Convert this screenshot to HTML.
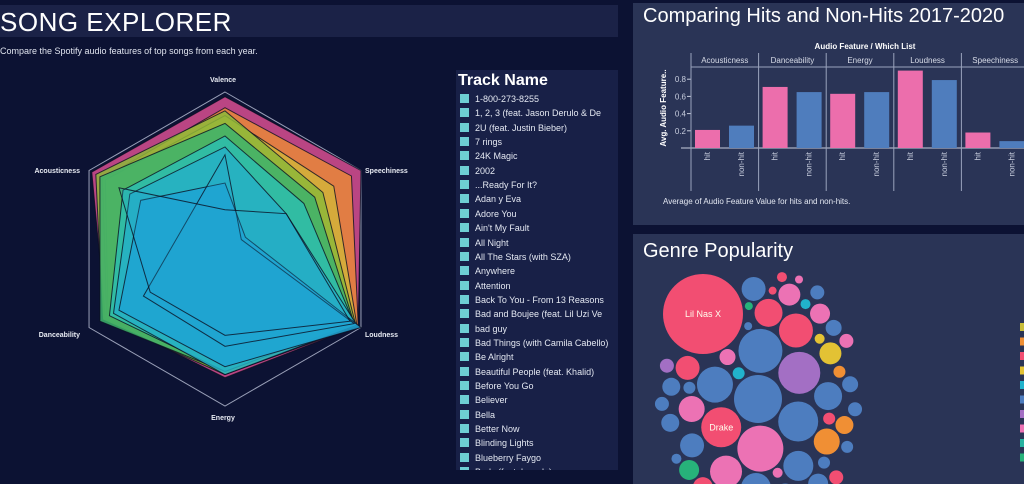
<!DOCTYPE html>
<html><head><meta charset="utf-8">
<style>
html,body{margin:0;padding:0;width:1024px;height:484px;overflow:hidden;background:#0c1233;font-family:"Liberation Sans",sans-serif;}
.abs{position:absolute;}
#title-bar{left:0;top:5px;width:618px;height:32px;background:#1b2247;}
#title-bar span{position:absolute;left:0;top:2px;font-size:26px;color:#fff;letter-spacing:0.5px;}
#subtitle{left:0;top:46px;font-size:9px;color:#dfe3ee;}
#tracks{left:456px;top:70px;width:162px;height:400px;background:#182047;overflow:hidden;}
#tracks h3{margin:0;position:absolute;left:2px;top:2px;font-size:16px;color:#fff;font-weight:bold;}
.trk{position:absolute;left:4px;font-size:9px;color:#e4e8f2;white-space:nowrap;height:14px;line-height:14px;}
.trk i{display:inline-block;width:9px;height:9px;background:#6ecfd3;margin-right:6px;vertical-align:-1px;}
#hits-panel{left:633px;top:3px;width:391px;height:222px;background:#2a3456;overflow:hidden;}
#genre-panel{left:633px;top:234px;width:391px;height:250px;background:#2a3456;overflow:hidden;}
.ptitle{position:absolute;left:10px;font-size:20px;color:#fff;}
</style></head><body>
<div class="abs" id="title-bar"><span>SONG EXPLORER</span></div>
<div class="abs" id="subtitle">Compare the Spotify audio features of top songs from each year.</div>
<svg class="abs" style="left:0;top:60px" width="450" height="410" id="radar"></svg>
<div class="abs" id="tracks"><h3>Track Name</h3></div>
<div class="abs" id="hits-panel">
<div class="ptitle" style="top:2px">Comparing Hits and Non-Hits 2017-2020</div>
<svg class="abs" style="left:0;top:0" width="391" height="222" id="bars"></svg>
</div>
<div class="abs" id="genre-panel">
<svg class="abs" style="left:0;top:0" width="391" height="250" id="bubbles"></svg>
<div class="ptitle" style="top:6px">Genre Popularity</div>
</div>
<script>
const NS="http://www.w3.org/2000/svg";
function mk(p,t,a){const e=document.createElementNS(NS,t);for(const k in a)e.setAttribute(k,a[k]);p.appendChild(e);return e;}

/* ---------- radar ---------- */
const radarAxes=["Valence","Speechiness","Loudness","Energy","Danceability","Acousticness"];
const radarSeriesColors=["#d94f92","#e8873a","#d2b23a","#8db83a","#3db36c","#2dbdae","#26b0c6","#1ea3d2","#1ea3d2","#1ea3d2"];
const radarS1=[0.97,1.00,0.98,0.82,0.88,0.98];
const radarS2=[0.90,0.93,0.98,0.80,0.87,0.90];
const radarS3=[0.85,0.80,0.97,0.80,0.86,0.88];
const radarS4=[0.88,0.72,0.96,0.80,0.90,0.95];
const radarS5=[0.80,0.66,0.95,0.78,0.92,0.92];
const radarS6=[0.72,0.58,0.95,0.78,0.85,0.75];
const radarS7=[0.65,0.45,0.97,0.80,0.82,0.70];
const radarS8=[0.42,0.15,1.00,0.75,0.78,0.62];
const radarS9=[0.60,0.12,0.95,0.62,0.60,0.30];
const radarS10=[0.25,0.45,0.92,0.55,0.55,0.78];
const radarSeries=[radarS1,radarS2,radarS3,radarS4,radarS5,radarS6,radarS7,radarS8,radarS9,radarS10];
(function(){
 const svg=document.getElementById('radar');const cx=225,cy=189,R=157;
 const pt=(i,v)=>{const a=-Math.PI/2+i*Math.PI/3;return [cx+R*v*Math.cos(a),cy+R*v*Math.sin(a)];};
 const hex=radarAxes.map((_,i)=>pt(i,1).join(',')).join(' ');
 const g=mk(svg,'polygon',{points:hex,fill:'none',stroke:'#9aa0b8','stroke-width':1});
 
 
 radarSeries.forEach((s,k)=>{
  const p=mk(svg,'polygon',{points:s.map((v,i)=>pt(i,v).join(',')).join(' '),fill:radarSeriesColors[k],'fill-opacity':k>=8?0.25:0.85,stroke:'#0a0f22','stroke-width':1,'stroke-opacity':0.8});
  
  
 });
 const lp=[[223,22,'middle'],[365,113,'start'],[365,277,'start'],[223,360,'middle'],[80,277,'end'],[80,113,'end']];
 radarAxes.forEach((a,i)=>{const t=mk(svg,'text',{x:lp[i][0],y:lp[i][1],'text-anchor':lp[i][2],'font-size':7,'font-weight':'bold',fill:'#e8ebf3'});t.textContent=a;
  
  });
})();

/* ---------- tracks ---------- */
const trackNames=["1-800-273-8255","1, 2, 3 (feat. Jason Derulo & De","2U (feat. Justin Bieber)","7 rings","24K Magic","2002","...Ready For It?","Adan y Eva","Adore You","Ain't My Fault","All Night","All The Stars (with SZA)","Anywhere","Attention","Back To You - From 13 Reasons","Bad and Boujee (feat. Lil Uzi Ve","bad guy","Bad Things (with Camila Cabello)","Be Alright","Beautiful People (feat. Khalid)","Before You Go","Believer","Bella","Better Now","Blinding Lights","Blueberry Faygo","Body (feat. brando)"];
(function(){const c=document.getElementById('tracks');trackNames.forEach((n,i)=>{const d=document.createElement('div');d.className='trk';d.style.top=(22+i*14.35)+'px';d.innerHTML='<i></i>';d.appendChild(document.createTextNode(n));
 
 
 c.appendChild(d);});})();

/* ---------- bars ---------- */
const barFeatures=["Acousticness","Danceability","Energy","Loudness","Speechiness"];
const barHit=[0.21,0.71,0.63,0.90,0.18];
const barNonHit=[0.26,0.65,0.65,0.79,0.08];
const barTicks=[0.2,0.4,0.6,0.8];
(function(){
 const svg=document.getElementById('bars');const x0=58,cw=67.6,base=145,sc=86;
 const y=v=>base-v*sc;
 const ax=mk(svg,'text',{x:232,y:46,'text-anchor':'middle','font-size':8,'font-weight':'bold',fill:'#fff'});ax.textContent='Audio Feature / Which List';
 const yt=mk(svg,'text',{x:0,y:0,transform:'translate(33,105) rotate(-90)','text-anchor':'middle','font-size':8,'font-weight':'bold',fill:'#fff'});yt.textContent='Avg. Audio Feature..';
 mk(svg,'line',{x1:x0,x2:391,y1:64,y2:64,stroke:'#9aa3bd'});
 mk(svg,'line',{x1:x0-10,x2:391,y1:base,y2:base,stroke:'#c8cede'});
 barTicks.forEach(t=>{const e=mk(svg,'text',{x:x0-5,y:y(t)+3,'text-anchor':'end','font-size':8,fill:'#c8cede'});e.textContent=t.toFixed(1);mk(svg,'line',{x1:x0-4,x2:x0,y1:y(t),y2:y(t),stroke:'#c8cede'});});
 barFeatures.forEach((f,i)=>{
  const cx=x0+i*cw;
  mk(svg,'line',{x1:cx,x2:cx,y1:50,y2:188,stroke:'#9aa3bd'});
  const h=mk(svg,'text',{x:cx+cw/2,y:60,'text-anchor':'middle','font-size':8,fill:'#d8dce8'});h.textContent=f;
  [[barHit[i],'#ec6eac','hit',4],[barNonHit[i],'#4f7dbd','non-hit',38]].forEach(([v,c,l,o])=>{
   const r=mk(svg,'rect',{x:cx+o,y:y(v),width:25,height:v*sc,fill:c});
   
   
   const lt=mk(svg,'text',{x:0,y:0,transform:`translate(${cx+o+15},149) rotate(-90)`,'text-anchor':'end','font-size':8,fill:'#c8cede'});lt.textContent=l;
  });
 });
 const fn=mk(svg,'text',{x:30,y:201,'font-size':8,fill:'#e4e8f2'});fn.textContent='Average of Audio Feature Value for hits and non-hits.';
})();

/* ---------- bubbles ---------- */
const genreColors=["#f24e72","#a36fc4","#ec72b4","#f08f34","#4d7dbf","#e3c234","#21b2cc","#27b27a"];
const bubbleSizes=[40,24,23,22,21,20,20,18,17,16,15,15,14,14,13,13,13,12,12,12,11,11,11,11,10,10,10,10,9,9,9,9,9,8,8,8,8,8,8,7,7,7,7,7,7,7,6,6,6,6,6,6,5,5,5,5,5,5,4,4,4,4];
const bubbleGenre=[0,4,2,4,1,0,4,4,0,2,4,4,0,4,2,4,3,4,0,4,4,2,5,4,0,4,7,2,4,3,0,4,4,2,4,0,4,6,4,1,4,0,5,4,2,4,6,4,0,4,3,4,2,5,4,6,0,4,4,7,0,2];
const bubbleLabels={0:"Lil Nas X",5:"Drake"};
(function(){
 const svg=document.getElementById('bubbles');const cx=125,cy=165;const placed=[];
 bubbleSizes.forEach((r,i)=>{
  let x=cx,y=cy;
  if(i===0){x=70;y=80;}
  else{for(let t=0;t<8000;t++){const a=t*0.25,d=t*0.1;x=cx+d*Math.cos(a)*0.9;y=cy+d*Math.sin(a)*1.3;
   if(y-r<38)continue;
   if(placed.every(p=>Math.hypot(p[0]-x,p[1]-y)>=p[2]+r+1.5))break;}}
  placed.push([x,y,r]);
  const c=mk(svg,'circle',{cx:x,cy:y,r:r,fill:genreColors[bubbleGenre[i]]});
  
  
  if(bubbleLabels[i]){const t=mk(svg,'text',{x:x,y:y+3,'text-anchor':'middle','font-size':9,fill:'#ffe'});t.textContent=bubbleLabels[i];}
 });
 const legendColors=["#c9bd3a","#f08f34","#f24e72","#e3c234","#21b2cc","#4d7dbf","#a36fc4","#ec72b4","#27b2a0","#27b27a"];
 legendColors.forEach((c,i)=>{const r=mk(svg,'rect',{x:387,y:89+i*14.5,width:8,height:8,fill:c});
  
  });
})();
</script>
</body></html>
